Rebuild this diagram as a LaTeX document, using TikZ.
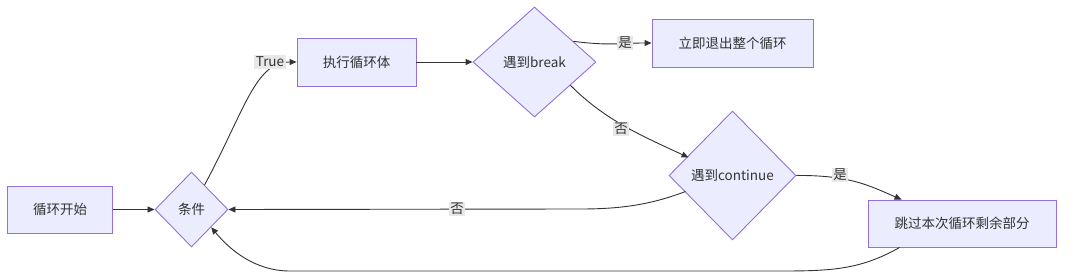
\documentclass[tikz,border=0pt]{standalone}
\usepackage{fontspec}
\setmainfont{Noto Sans CJK SC}
\usetikzlibrary{shapes.geometric,arrows.meta}
\definecolor{nodefill}{HTML}{ECECFF}
\definecolor{nodeline}{HTML}{9370DB}
\definecolor{edgecol}{HTML}{333333}
\definecolor{lblbg}{HTML}{E8E8E8}
\begin{document}
\begin{tikzpicture}[x=1pt,y=-1pt,
  font=\fontsize{13.5}{15}\selectfont,
  box/.style={draw=nodeline,fill=nodefill,line width=0.9pt,inner sep=0pt,text=black!80},
  dia/.style={diamond,draw=nodeline,fill=nodefill,line width=0.9pt,inner sep=0pt,text=black!80},
  edge/.style={draw=edgecol,line width=0.9pt,-{Triangle[length=7pt,width=6pt]}},
  lbl/.style={fill=lblbg,inner sep=1.5pt,text=black!80}]
\useasboundingbox (0,0) rectangle (1080,278);
\node[box,minimum width=105,minimum height=47] (start) at (60,209.5) {循环开始};
\node[dia,minimum width=73,minimum height=75] (cond) at (191.5,209.5) {条件};
\node[box,minimum width=119,minimum height=48] (exec) at (356.5,62) {执行循环体};
\node[dia,minimum width=123,minimum height=110] (brk) at (534.5,62) {遇到break};
\node[box,minimum width=161,minimum height=48] (exit) at (732.5,43) {立即退出整个循环};
\node[dia,minimum width=127,minimum height=129] (cont) at (732.5,175.5) {遇到continue};
\node[box,minimum width=188,minimum height=47] (skip) at (962,223.5) {跳过本次循环剩余部分};

\draw[edge] (start) -- (cond);
\draw[edge] (cond.62) .. controls (245,110) and (255,62) .. (exec.west);
\node[lbl] (lt) at (270,62) {True};
\draw[edge] (exec) -- (brk);
\draw[edge] (brk.28) .. controls (610,46) and (620,43) .. (exit.west);
\node[lbl] (ly1) at (625,43) {是};
\draw[edge] (brk.-33) .. controls (605,120) and (640,135) .. ([xshift=-44pt,yshift=18pt]cont.center);
\node[lbl] (ln1) at (621,129) {否};
\draw[edge] (cont.east) .. controls (850,175) and (870,186) .. ([xshift=34pt]skip.north west);
\node[lbl] (ly2) at (840,175) {是};
\draw[edge] ([xshift=-47pt,yshift=-16pt]cont.center) .. controls (650,205) and (620,209) .. (580,209) -- (cond.east);
\node[lbl] (ln2) at (457,209) {否};
\draw[edge] ([xshift=32pt]skip.south west) .. controls (860,270) and (830,271) .. (780,271) -- (290,271) .. controls (255,271) and (230,250) .. (cond.-42);
\end{tikzpicture}
\end{document}
